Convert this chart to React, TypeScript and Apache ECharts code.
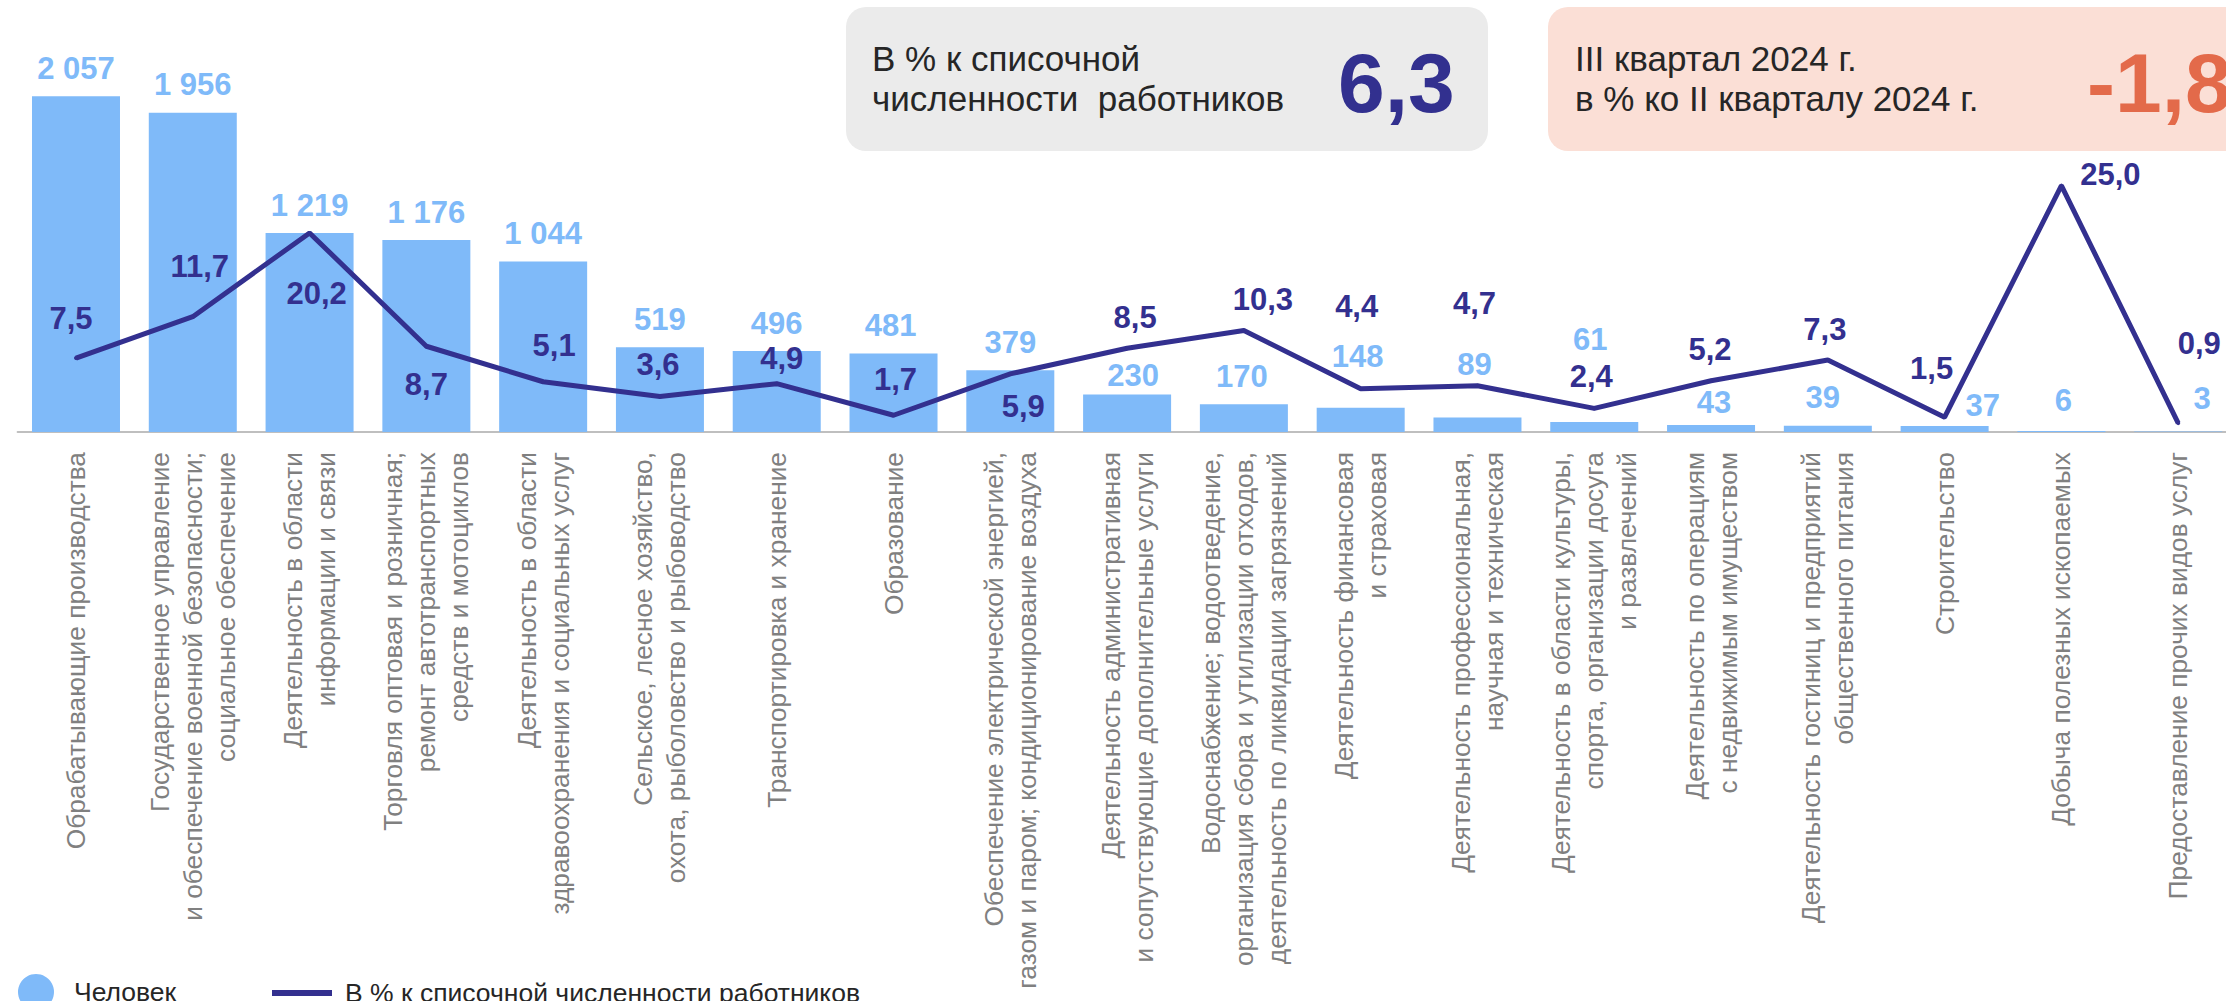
import React, { useEffect, useRef } from "react";
import * as echarts from "echarts";

const categories: string[] = [
  "Обрабатывающие производства",
  "Государственное управление\nи обеспечение военной безопасности;\nсоциальное обеспечение",
  "Деятельность в области\nинформации и связи",
  "Торговля оптовая и розничная;\nремонт автотранспортных\nсредств и мотоциклов",
  "Деятельность в области\nздравоохранения и социальных услуг",
  "Сельское, лесное хозяйство,\nохота, рыболовство и рыбоводство",
  "Транспортировка и хранение",
  "Образование",
  "Обеспечение электрической энергией,\nгазом и паром; кондиционирование воздуха",
  "Деятельность административная\nи сопутствующие дополнительные услуги",
  "Водоснабжение; водоотведение,\nорганизация сбора и утилизации отходов,\nдеятельность по ликвидации загрязнений",
  "Деятельность финансовая\nи страховая",
  "Деятельность профессиональная,\nнаучная и техническая",
  "Деятельность в области культуры,\nспорта, организации досуга\nи развлечений",
  "Деятельность по операциям\nс недвижимым имуществом",
  "Деятельность гостиниц и предприятий\nобщественного питания",
  "Строительство",
  "Добыча полезных ископаемых",
  "Предоставление прочих видов услуг",
];

const persons: number[] = [2057, 1956, 1219, 1176, 1044, 519, 496, 481, 379, 230, 170, 148, 89, 61, 43, 39, 37, 6, 3];
const percents: number[] = [7.5, 11.7, 20.2, 8.7, 5.1, 3.6, 4.9, 1.7, 5.9, 8.5, 10.3, 4.4, 4.7, 2.4, 5.2, 7.3, 1.5, 25.0, 0.9];

const seriesNames = ["Человек", "В % к списочной численности работников"];
const box1Lines = ["В % к списочной", "численности  работников"];
const box1Value = "6,3";
const box2Lines = ["III квартал 2024 г.", "в % ко II кварталу 2024 г."];
const box2Value = "-1,8";

// label nudges (layout only)
const barLabelOffsets: number[][] = [
  [0, 0], [0, 0], [0, 0], [0, 0], [0, 0], [0, 0], [0, 0], [-3, 0], [0, 0], [6, 9],
  [-2, 0], [-3, -23], [-3, -25], [-4, -55], [3, 6], [-5, 0], [38, 8], [2, -3], [24, -5],
];
const lineLabelOffsets: number[][] = [
  [-5, -23], [7, -33], [7, 78], [0, 55], [11, -19], [-2, -15], [5, -8], [2, -19], [13, 50], [8, -14],
  [19, -14], [-4, -65], [-3, -65], [-3, -15], [-1, -14], [-3, -14], [-13, -32], [49, 6], [21, -63],
];

const FONT = '"Liberation Sans", Arial, sans-serif';
const BAR_COLOR = "#7FBAF9";
const LINE_COLOR = "#33308F";

const fmtThousands = (v: number) => String(v).replace(/\B(?=(\d{3})+(?!\d))/g, " ");
const fmtPct = (v: number) => v.toFixed(1).replace(".", ",");

export default function App() {
  const ref = useRef<HTMLDivElement>(null);
  useEffect(() => {
    if (!ref.current) return;
    const chart = echarts.init(ref.current, undefined, { renderer: "svg" });
    const option: any = {
      animation: false,
      backgroundColor: "#ffffff",
      textStyle: { fontFamily: FONT },
      grid: { left: 17.6, top: 24, width: 2219, height: 408, containLabel: false },
      legend: [
        {
          data: [{ name: seriesNames[0], icon: "circle" }],
          left: 13,
          top: 969,
          itemWidth: 36,
          itemHeight: 36,
          textStyle: { fontSize: 26.5, color: "#262626", fontFamily: FONT, padding: [0, 0, 0, 15], lineHeight: 30 },
        },
        {
          data: [{ name: seriesNames[1], icon: "rect" }],
          left: 267,
          top: 973,
          itemWidth: 60,
          itemHeight: 6,
          textStyle: { fontSize: 26.5, color: "#262626", fontFamily: FONT, padding: [0, 0, 0, 8], lineHeight: 30 },
        },
      ],
      xAxis: {
        type: "category",
        data: categories,
        axisLine: { show: true, lineStyle: { color: "#BFBFBF", width: 2 } },
        axisTick: { show: false },
        splitLine: { show: false },
        axisLabel: {
          interval: 0,
          rotate: 90,
          margin: 20,
          fontSize: 26.3,
          lineHeight: 33,
          color: "#808080",
          fontFamily: FONT,
        },
      },
      yAxis: [
        { type: "value", min: 0, max: 2500, show: false, splitLine: { show: false } },
        { type: "value", min: 0, max: 41.4, show: false, splitLine: { show: false } },
      ],
      series: [
        {
          name: seriesNames[0],
          type: "bar",
          barWidth: 88,
          itemStyle: { color: BAR_COLOR },
          label: {
            show: true,
            position: "top",
            distance: 13,
            fontSize: 31,
            lineHeight: 30,
            fontWeight: "bold",
            fontFamily: FONT,
            color: BAR_COLOR,
            formatter: (p: any) => fmtThousands(p.value),
          },
          data: persons.map((v, i) => ({ value: v, label: { offset: barLabelOffsets[i] } })),
          z: 2,
        },
        {
          name: seriesNames[1],
          type: "line",
          yAxisIndex: 1,
          symbol: "circle",
          symbolSize: 4,
          itemStyle: { color: LINE_COLOR },
          lineStyle: { color: LINE_COLOR, width: 5 },
          label: {
            show: true,
            position: "top",
            distance: 0,
            fontSize: 31,
            lineHeight: 30,
            fontWeight: "bold",
            fontFamily: FONT,
            color: LINE_COLOR,
            formatter: (p: any) => fmtPct(p.value),
          },
          data: percents.map((v, i) => ({ value: v, label: { offset: lineLabelOffsets[i] } })),
          z: 3,
        },
      ],
      graphic: [
        { type: "rect", shape: { x: 846, y: 7, width: 642, height: 144, r: 20 }, style: { fill: "#EBEBEB" }, z: 0 },
        { type: "text", x: 872, y: 58, style: { text: box1Lines[0], font: `35px ${FONT}`, fill: "#262626", verticalAlign: "middle" }, z: 1 },
        { type: "text", x: 872, y: 98, style: { text: box1Lines[1], font: `35px ${FONT}`, fill: "#262626", verticalAlign: "middle" }, z: 1 },
        { type: "text", x: 1338, y: 83, style: { text: box1Value, font: `bold 84px ${FONT}`, fill: "#32308F", verticalAlign: "middle" }, z: 1 },
        { type: "rect", shape: { x: 1548, y: 7, width: 720, height: 144, r: 20 }, style: { fill: "#FBDFD6" }, z: 0 },
        { type: "text", x: 1575, y: 58, style: { text: box2Lines[0], font: `35px ${FONT}`, fill: "#262626", verticalAlign: "middle" }, z: 1 },
        { type: "text", x: 1575, y: 98, style: { text: box2Lines[1], font: `35px ${FONT}`, fill: "#262626", verticalAlign: "middle" }, z: 1 },
        { type: "text", x: 2087, y: 83, style: { text: box2Value, font: `bold 84px ${FONT}`, fill: "#E36A4A", verticalAlign: "middle" }, z: 1 },
      ],
    };
    chart.setOption(option);
    return () => chart.dispose();
  }, []);
  return (
    <div style={{ position: "fixed", left: 0, top: 0, width: 2226, height: 1001, overflow: "hidden", background: "#fff" }}>
      <div ref={ref} style={{ width: 2240, height: 1001 }} />
    </div>
  );
}
